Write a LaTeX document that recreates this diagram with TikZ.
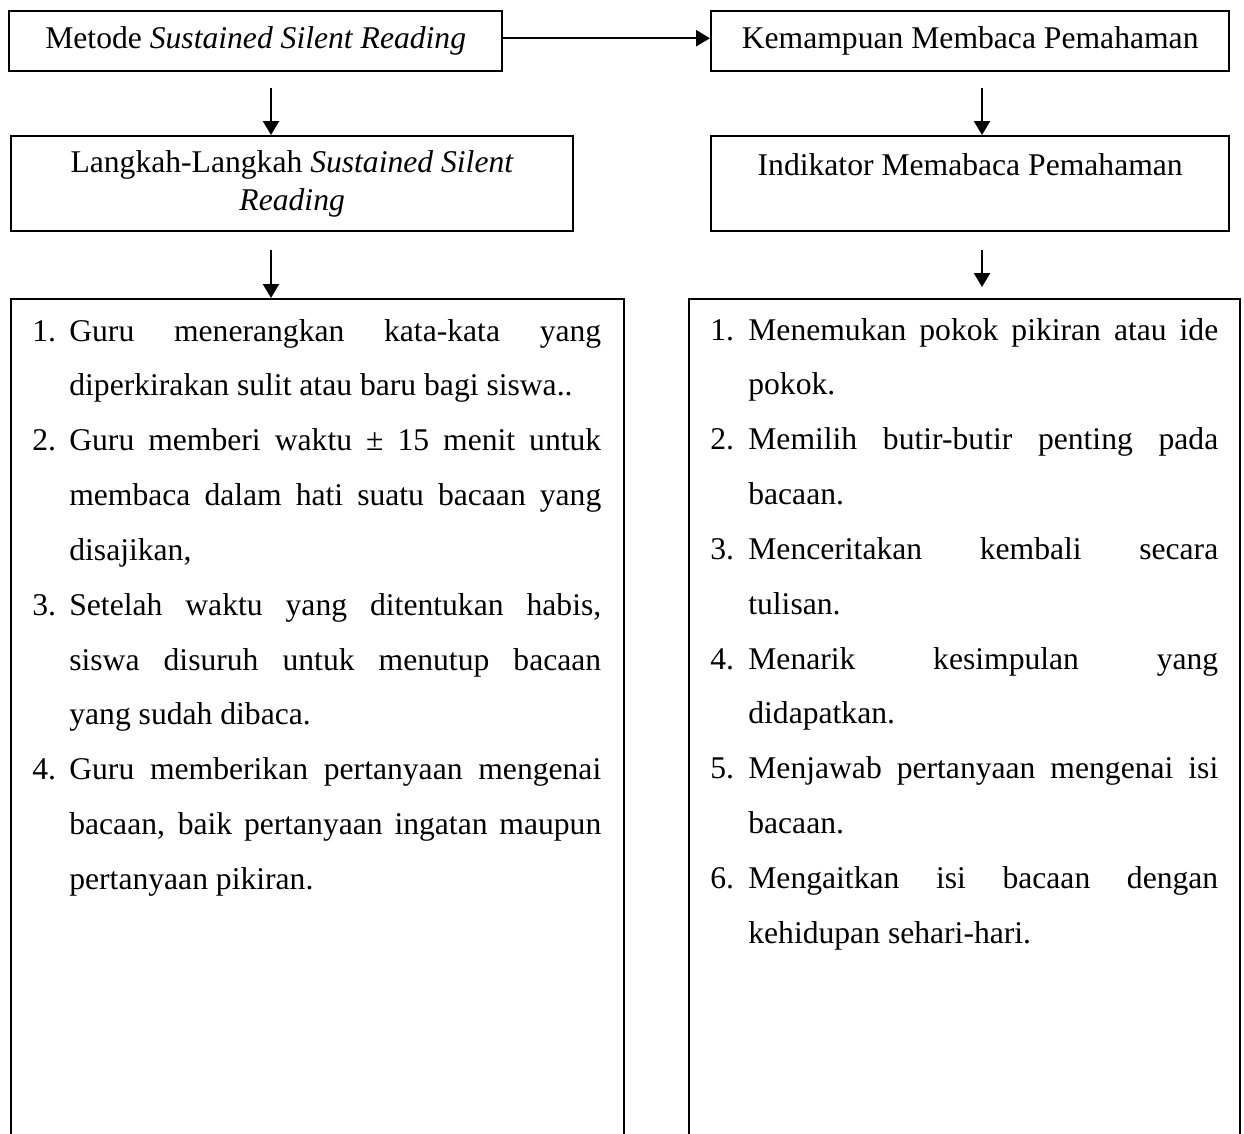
\documentclass[tikz,border=0pt]{standalone}
\usepackage{fontspec}
\setmainfont{Liberation Serif}
\usepackage{enumitem}
\usetikzlibrary{arrows.meta}

\newcommand{\listfont}{\fontsize{18}{31.2}\selectfont\hyphenpenalty=10000\exhyphenpenalty=10000\tolerance=10000}

\begin{document}
\begin{tikzpicture}[x=0.02cm, y=-0.02cm,
    box/.style={shape=rectangle, draw=black, line width=1.4pt, inner sep=0pt, align=center, anchor=north west, font=\fontsize{18}{21.6}\selectfont},
    arr/.style={black, line width=1.4pt, -{Triangle[length=0.28cm, width=0.32cm]}},
    items/.style={inner sep=0pt, anchor=north west, align=justify, font=\listfont}]
      \useasboundingbox (0,0) rectangle (1244,1133);
      \clip (0,0) rectangle (1244,1133);

      \node[box, minimum width=9.86cm, minimum height=1.2cm] at (8,10) (metode) {Metode \textit{Sustained Silent Reading}};
      \node[box, minimum width=10.36cm, minimum height=1.2cm] at (710,10) (kemampuan) {Kemampuan Membaca Pemahaman};
      \draw[arr] ([yshift=0.06cm]metode.east) -- ([yshift=0.06cm]kemampuan.west);

      \node[box, minimum width=11.24cm, minimum height=1.9cm] at (10,135) (langkah) {Langkah-Langkah \textit{Sustained Silent}\\\textit{Reading}};
      \node[box, minimum width=10.36cm, minimum height=1.9cm] at (710,135) (indikator) {Indikator Memabaca Pemahaman\\\mbox{}};

      \coordinate (metode_out) at (271,88);
      \coordinate (kemampuan_out) at (982,88);
      \draw[arr] (metode_out) -- (metode_out |- langkah.north);
      \draw[arr] (kemampuan_out) -- (kemampuan_out |- indikator.north);

      % --------------------------------------------------------------------------
      \node[box, minimum width=12.26cm, minimum height=17.4cm] at (10,298) (steps) {};
      \node[box, minimum width=11.02cm, minimum height=17.4cm] at (688,298) (indicators) {};

      \coordinate (langkah_out) at (271,250);
      \coordinate (indikator_out) at (982,250);
      \coordinate (indikator_in) at (982,287);
      \draw[arr] (langkah_out) -- (langkah_out |- steps.north);
      \draw[arr] (indikator_out) -- (indikator_in);

      \node[items, text width=11.38cm] at (32,286) (steps_text) {%
        \begin{enumerate}[label=\arabic*., leftmargin=0.74cm, labelwidth=0.48cm, labelsep=0.26cm, align=left, itemsep=0pt, parsep=0pt, topsep=0pt, partopsep=0pt]
          \item Guru menerangkan kata-kata yang\linebreak diperkirakan sulit atau baru bagi siswa..
          \item Guru memberi waktu ± 15 menit untuk\linebreak membaca dalam hati suatu bacaan yang\linebreak disajikan,
          \item Setelah waktu yang ditentukan habis,\linebreak siswa disuruh untuk menutup bacaan\linebreak yang sudah dibaca.
          \item Guru memberikan pertanyaan mengenai\linebreak bacaan, baik pertanyaan ingatan maupun\linebreak pertanyaan pikiran.
        \end{enumerate}};
      \node[items, text width=10.16cm] at (710,285) (indicators_text) {%
        \begin{enumerate}[label=\arabic*., leftmargin=0.76cm, labelwidth=0.48cm, labelsep=0.28cm, align=left, itemsep=0pt, parsep=0pt, topsep=0pt, partopsep=0pt]
          \item Menemukan pokok pikiran atau ide\linebreak pokok.
          \item Memilih butir-butir penting pada\linebreak bacaan.
          \item Menceritakan kembali secara\linebreak tulisan.
          \item Menarik kesimpulan yang\linebreak didapatkan.
          \item Menjawab pertanyaan mengenai isi\linebreak bacaan.
          \item Mengaitkan isi bacaan dengan\linebreak kehidupan sehari-hari.
        \end{enumerate}};
    \end{tikzpicture}
\end{document}
